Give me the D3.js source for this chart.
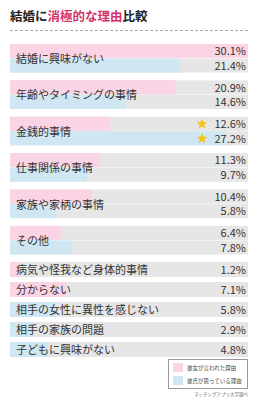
<!doctype html>
<html lang="ja">
<head>
<meta charset="utf-8">
<title>結婚に消極的な理由比較</title>
<script src="https://cdnjs.cloudflare.com/ajax/libs/d3/7.8.5/d3.min.js"></script>
<style>
  body { margin:0; background:#fff; }
  svg { display:block; font-family:"Noto Sans CJK JP", "Noto Sans", sans-serif; }
</style>
</head>
<body>
<svg width="258" height="400"></svg>
<script>
// paired reasons (彼女 / 彼氏)
const pairLabels = ["結婚に興味がない", "年齢やタイミングの事情", "金銭的事情", "仕事関係の事情", "家族や家柄の事情", "その他"];
const herValues = [30.1, 20.9, 12.6, 11.3, 10.4, 6.4];
const hisValues = [21.4, 14.6, 27.2, 9.7, 5.8, 7.8];
const starred = ["金銭的事情"];

// single reasons
const singleLabels = ["病気や怪我など身体的事情", "分からない", "相手の女性に異性を感じない", "相手の家族の問題", "子どもに興味がない"];
const singleValues = [1.2, 7.1, 5.8, 2.9, 4.8];
const singleSeries = ["her", "her", "his", "his", "his"];

const legendLabels = ["彼女が言われた理由", "彼氏が思っている理由"];

const pink = "#fad4e4", blue = "#cfe7f2", grey = "#e6e6e6";
const svg = d3.select("svg");

const x = d3.scaleLinear().domain([0, 30]).range([10, 248]).clamp(true);

// title
const title = svg.append("text").attr("x", 10).attr("y", 21)
  .style("font-size", "12.5px").style("font-weight", "bold").attr("fill", "#222");
title.append("tspan").text("結婚に");
title.append("tspan").attr("fill", "#d4336a").text("消極的な理由");
title.append("tspan").text("比較");

svg.append("line").attr("x1", 10).attr("x2", 248).attr("y1", 30.5).attr("y2", 30.5)
  .attr("stroke", "#aaa").attr("stroke-dasharray", "3,2");

// paired groups
const gy = d3.scaleBand().domain(pairLabels).range([44, 255]).paddingInner(0.2).paddingOuter(0);

function star(g, cx, cy, r) {
  const pts = d3.range(10).map(i => {
    const a = -Math.PI / 2 + i * Math.PI / 5;
    const rr = i % 2 ? r * 0.45 : r;
    return [cx + rr * Math.cos(a), cy + rr * Math.sin(a)];
  });
  g.append("path").attr("d", d3.line()(pts) + "Z").attr("fill", "#f6c21c");
}

pairLabels.forEach((lab, i) => {
  const g = svg.append("g");
  const y0 = gy(lab), h = gy.bandwidth() / 2;
  [[herValues[i], pink, y0], [hisValues[i], blue, y0 + h]].forEach(([v, c, y]) => {
    g.append("rect").attr("x", x(0)).attr("y", y).attr("width", x(30) - x(0)).attr("height", h - 0.5).attr("fill", grey);
    g.append("rect").attr("x", x(0)).attr("y", y).attr("width", x(v) - x(0)).attr("height", h - 0.5).attr("fill", c);
    g.append("text").attr("x", 246).attr("y", y + h / 2 + 4).attr("text-anchor", "end")
      .style("font-size", "11px").attr("fill", "#333").text(v.toFixed(1) + "%");
    if (starred.includes(lab)) star(g, 202, y + h / 2, 5.5);
  });
  g.append("text").attr("x", 16).attr("y", y0 + h + 4.5).style("font-size", "11px")
    .attr("fill", "#333").text(lab);
});

// single rows
const sy = d3.scaleBand().domain(singleLabels).range([262, 357]).paddingInner(0.25).paddingOuter(0);
singleLabels.forEach((lab, i) => {
  const y = sy(lab), h = sy.bandwidth();
  const c = singleSeries[i] === "her" ? pink : blue;
  svg.append("rect").attr("x", x(0)).attr("y", y).attr("width", x(30) - x(0)).attr("height", h).attr("fill", grey);
  svg.append("rect").attr("x", x(0)).attr("y", y).attr("width", x(singleValues[i]) - x(0)).attr("height", h).attr("fill", c);
  svg.append("text").attr("x", 16).attr("y", y + h / 2 + 4).style("font-size", "11px").attr("fill", "#333").text(lab);
  svg.append("text").attr("x", 246).attr("y", y + h / 2 + 4).attr("text-anchor", "end")
    .style("font-size", "11px").attr("fill", "#333").text(singleValues[i].toFixed(1) + "%");
});

// legend
const lg = svg.append("g");
lg.append("rect").attr("x", 168.5).attr("y", 359.5).attr("width", 79).attr("height", 29)
  .attr("fill", "#fff").attr("stroke", "#999");
legendLabels.forEach((t, i) => {
  lg.append("rect").attr("x", 173).attr("y", 363 + i * 13).attr("width", 10).attr("height", 9).attr("fill", i ? blue : pink);
  lg.append("text").attr("x", 187).attr("y", 370 + i * 13).style("font-size", "5.5px").attr("fill", "#444").text(t);
});
svg.append("text").attr("x", 248).attr("y", 396).attr("text-anchor", "end")
  .style("font-size", "4.5px").attr("fill", "#666").text("マッチングアプリ大学調べ");
</script>
</body>
</html>
